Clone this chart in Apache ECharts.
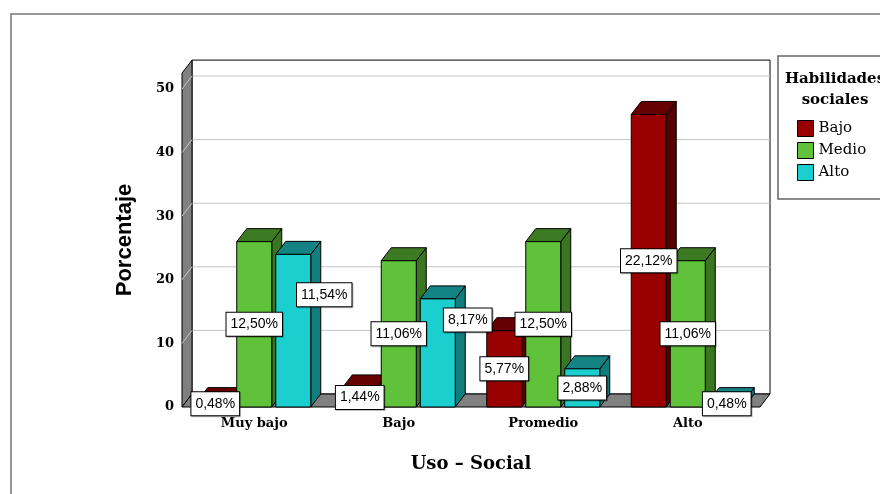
<!DOCTYPE html>
<html><head><meta charset="utf-8">
<script src="https://cdn.jsdelivr.net/npm/echarts@6/dist/echarts.min.js"></script>
<style>html,body{margin:0;padding:0;background:#fff}#c{width:880px;height:494px}</style>
</head><body><div id="c"></div>
<script>
// ---- data ----
const categories = ['Muy bajo', 'Bajo', 'Promedio', 'Alto'];
const groupNames = ['Bajo', 'Medio', 'Alto'];
const heightBajo  = [1, 3, 12, 46];
const heightMedio = [26, 23, 26, 23];
const heightAlto  = [24, 17, 6, 1];
const labelBajo  = ['0,48%', '1,44%', '5,77%', '22,12%'];
const labelMedio = ['12,50%', '11,06%', '12,50%', '11,06%'];
const labelAlto  = ['11,54%', '8,17%', '2,88%', '0,48%'];
const yTicks = [0, 10, 20, 30, 40, 50];

// ---- style ----
const DX = 10, DY = -13, BAR_W = 35, BAR_GAP = 4, WALL_TOP = 52.5;
const SERIF = '"DejaVu Serif", serif';
const palette = [
  { front: '#990000', top: '#660000', side: '#570000' },
  { front: '#60c23a', top: '#3c7a24', side: '#3a7522' },
  { front: '#1ccfcf', top: '#138383', side: '#127d7d' }
];
// nudges applied to labels that were moved to avoid overlap
const labelShift = [
  [[0, 0], [0, 0], [0, 0], [0, 0]],
  [[0, 0], [0, 0], [0, 0], [0, 0]],
  [[31, -36], [30, -33], [0, 0], [0, 0]]
];
const heights = [heightBajo, heightMedio, heightAlto];
const labels = [labelBajo, labelMedio, labelAlto];

const chart = echarts.init(document.getElementById('c'));

function frameRender(params, api) {
  const cs = params.coordSys;
  const L = cs.x, R = cs.x + cs.width;
  const y0 = api.coord([0, 0])[1];
  const yT = api.coord([0, WALL_TOP])[1];
  const ch = [];
  ch.push({ type: 'rect', shape: { x: L + DX, y: yT + DY, width: R - L, height: y0 - yT },
    style: { fill: '#fff', stroke: '#000', lineWidth: 1 } });
  yTicks.forEach(v => {
    if (v === 0) return;
    const y = api.coord([0, v])[1] + DY;
    ch.push({ type: 'line', shape: { x1: L + DX, y1: y, x2: R + DX, y2: y },
      style: { stroke: '#c4c4c4', lineWidth: 1 } });
  });
  ch.push({ type: 'polygon', shape: { points: [[L, y0], [L + DX, y0 + DY], [L + DX, yT + DY], [L, yT]] },
    style: { fill: '#808080', stroke: '#000', lineWidth: 1 } });
  yTicks.forEach(v => {
    if (v === 0) return;
    const y = api.coord([0, v])[1];
    ch.push({ type: 'line', shape: { x1: L, y1: y, x2: L + DX, y2: y + DY },
      style: { stroke: '#c8c8c8', lineWidth: 1 } });
  });
  ch.push({ type: 'polygon', shape: { points: [[L, y0], [R, y0], [R + DX, y0 + DY], [L + DX, y0 + DY]] },
    style: { fill: '#808080', stroke: '#000', lineWidth: 1 } });
  return { type: 'group', children: ch };
}

function barRender(s) {
  return function (params, api) {
    const ci = api.value(0), v = api.value(1);
    const base = api.coord([ci, 0]);
    const yt = api.coord([ci, v])[1];
    const yb = base[1];
    const cx = base[0] + (s - 1) * (BAR_W + BAR_GAP);
    const x0 = cx - BAR_W / 2, x1 = cx + BAR_W / 2;
    const c = palette[s];
    const st = { stroke: '#000', lineWidth: 1 };
    const sh = labelShift[s][params.dataIndex];
    return {
      type: 'group',
      children: [
        { type: 'polygon', shape: { points: [[x1, yb], [x1 + DX, yb + DY], [x1 + DX, yt + DY], [x1, yt]] },
          style: Object.assign({ fill: c.side }, st) },
        { type: 'polygon', shape: { points: [[x0, yt], [x1, yt], [x1 + DX, yt + DY], [x0 + DX, yt + DY]] },
          style: Object.assign({ fill: c.top }, st) },
        { type: 'rect', shape: { x: x0, y: yt, width: BAR_W, height: yb - yt },
          style: Object.assign({ fill: c.front }, st) },
        { type: 'text', z2: 100, x: cx + sh[0], y: (yt + yb) / 2 + sh[1],
          style: { text: labels[s][params.dataIndex], align: 'center', verticalAlign: 'middle',
            fill: '#000', font: '14px "Liberation Sans", Arial, sans-serif',
            backgroundColor: '#fff', borderColor: '#000', borderWidth: 1, padding: [5, 4, 4, 4],
            shadowColor: 'rgba(0,0,0,0.25)', shadowOffsetX: 1, shadowOffsetY: 1 } }
      ]
    };
  };
}

const series = [{
  type: 'custom', z: 1, silent: true, renderItem: frameRender, data: [[0, 0]]
}];
groupNames.forEach((g, s) => {
  series.push({
    type: 'custom', name: g, z: 2,
    itemStyle: { color: palette[s].front, borderColor: '#000', borderWidth: 1 },
    renderItem: barRender(s),
    encode: { x: 0, y: 1 },
    data: categories.map((cat, i) => [i, heights[s][i]])
  });
});

chart.setOption({
  animation: false,
  backgroundColor: '#fff',
  grid: { left: 182, top: 89, width: 578, height: 318 },
  xAxis: {
    type: 'category', data: categories,
    axisLine: { show: false }, axisTick: { show: false },
    axisLabel: { margin: 10, color: '#000', fontFamily: SERIF, fontWeight: 'bold', fontSize: 13 },
    name: 'Uso – Social', nameLocation: 'middle', nameGap: 48,
    nameTextStyle: { color: '#000', fontFamily: SERIF, fontWeight: 'bold', fontSize: 18 }
  },
  yAxis: {
    type: 'value', min: 0, max: 50, interval: 10,
    axisLine: { show: false }, axisTick: { show: false }, splitLine: { show: false },
    axisLabel: { margin: 8, color: '#000', fontFamily: SERIF, fontWeight: 'bold', fontSize: 13, padding: [6, 0, 0, 0] }
  },
  legend: {
    data: groupNames, orient: 'vertical', left: 797, top: 120,
    itemWidth: 16, itemHeight: 16, itemGap: 5, icon: 'rect',
    itemStyle: { borderColor: '#000', borderWidth: 1 },
    textStyle: { color: '#000', fontFamily: SERIF, fontSize: 15 },
    padding: 0
  },
  graphic: [
    { type: 'rect', z: 0, shape: { x: 11, y: 14, width: 900, height: 500 },
      style: { fill: 'none', stroke: '#777', lineWidth: 1.5 } },
    { type: 'rect', shape: { x: 778, y: 56, width: 130, height: 143 },
      style: { fill: 'none', stroke: '#666', lineWidth: 1.5 } },
    { type: 'text', x: 835, y: 69,
      style: { text: 'Habilidades\nsociales', align: 'center', verticalAlign: 'top', lineHeight: 21,
        fill: '#000', font: 'bold 15px ' + SERIF } },
    { type: 'text', x: 125, y: 240, rotation: Math.PI / 2,
      style: { text: 'Porcentaje', align: 'center', verticalAlign: 'middle',
        fill: '#000', font: 'bold 22px "Liberation Sans", Arial, sans-serif' } }
  ],
  series: series
});
</script>
</body></html>
